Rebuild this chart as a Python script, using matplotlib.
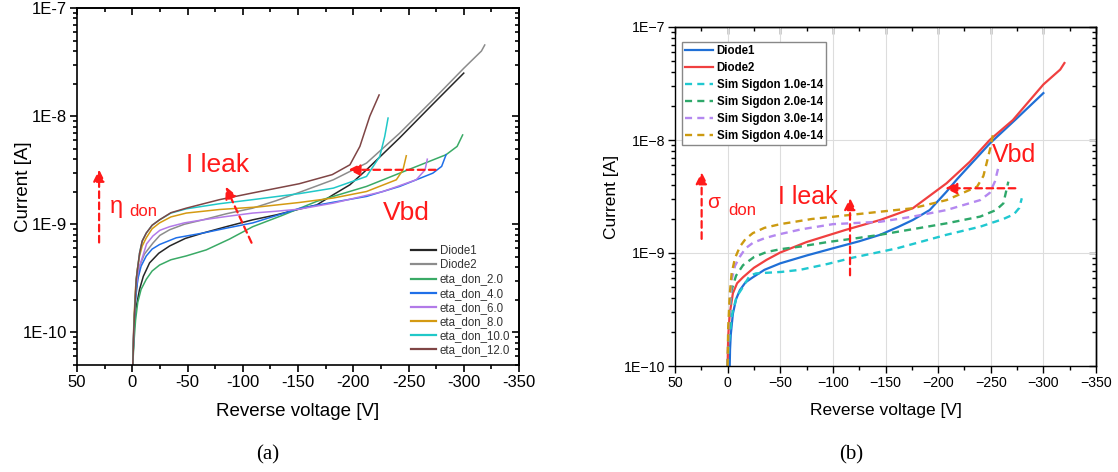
import matplotlib
matplotlib.use("Agg")
import matplotlib.pyplot as plt
from matplotlib.ticker import FixedLocator, FixedFormatter, LogLocator, NullFormatter, MultipleLocator

plt.rcParams['font.family'] = ['Liberation Sans', 'DejaVu Sans']

# ---------------- data: panel (a) ----------------
d1_v = [-0.5, -1.5, -3, -6.6, -10, -15.7, -24, -33.8, -48, -64, -85, -109, -130, -151, -167, -182, -197,
        -212, -242, -272, -300]
d1_i = [5e-11, 1e-10, 1.6e-10, 2.5e-10, 3.3e-10, 4.4e-10, 5.4e-10, 6.3e-10, 7.4e-10, 8.3e-10, 9.5e-10,
        1.1e-9, 1.22e-9, 1.38e-9, 1.51e-9, 1.88e-9, 2.32e-9, 3.19e-9, 6.3e-9, 1.29e-8, 2.5e-8]
d2_v = [-0.5, -1.5, -3, -6.6, -11, -18.7, -25, -33.8, -47, -64, -85, -109, -130, -151, -182, -212, -242,
        -272, -300, -316, -319]
d2_i = [5e-11, 1.1e-10, 2.2e-10, 4.1e-10, 5.3e-10, 6.7e-10, 7.9e-10, 8.9e-10, 1.0e-9, 1.1e-9, 1.25e-9,
        1.41e-9, 1.65e-9, 1.97e-9, 2.58e-9, 3.68e-9, 6.96e-9, 1.41e-8, 2.77e-8, 4.0e-8, 4.55e-8]
e2_v = [-0.5, -1.5, -3, -5, -8, -12.7, -18, -24.7, -35, -48.9, -67, -88, -109, -135, -167, -212, -242, -284,
        -294, -299]
e2_i = [5e-11, 8e-11, 1.3e-10, 1.9e-10, 2.5e-10, 3.1e-10, 3.7e-10, 4.2e-10, 4.7e-10, 5.1e-10, 5.8e-10,
        7.3e-10, 9.5e-10, 1.2e-9, 1.63e-9, 2.24e-9, 2.97e-9, 4.4e-9, 5.25e-9, 6.7e-9]
e4_v = [-0.5, -1.5, -3, -5, -8, -12.7, -18, -24.7, -39.8, -64, -85, -109, -130, -151, -182, -212, -242,
        -272, -280, -284]
e4_i = [5e-11, 1.2e-10, 2e-10, 3.1e-10, 4.1e-10, 5.1e-10, 5.9e-10, 6.5e-10, 7.5e-10, 8.3e-10, 9.2e-10,
        1.03e-9, 1.2e-9, 1.4e-9, 1.6e-9, 1.81e-9, 2.24e-9, 2.97e-9, 3.43e-9, 4.4e-9]
e6_v = [-0.5, -1.5, -3, -5.5, -9.6, -13, -18.7, -25, -33.8, -47, -64, -85, -109, -130, -151, -182, -227,
        -257, -265, -267]
e6_i = [5e-11, 1.2e-10, 2.4e-10, 3.8e-10, 5.1e-10, 6.6e-10, 7.8e-10, 8.8e-10, 9.5e-10, 1.03e-9, 1.1e-9,
        1.18e-9, 1.27e-9, 1.32e-9, 1.38e-9, 1.57e-9, 2.01e-9, 2.58e-9, 3.19e-9, 4.0e-9]
e8_v = [-0.5, -1.5, -3, -4.5, -6.6, -9, -12.7, -18, -24.7, -35, -48.9, -79, -115, -151, -182, -212, -239,
        -245, -248]
e8_i = [5e-11, 1.3e-10, 2.6e-10, 3.8e-10, 5.1e-10, 6.3e-10, 7.5e-10, 9.1e-10, 1.03e-9, 1.17e-9, 1.27e-9,
        1.37e-9, 1.45e-9, 1.59e-9, 1.75e-9, 2.01e-9, 2.58e-9, 3.19e-9, 4.3e-9]
e10_v = [-0.5, -1.5, -2.1, -3.6, -6.6, -9, -12.7, -18, -24.7, -35, -48.9, -79, -109, -151, -182, -212,
         -224, -228.5, -231.5]
e10_i = [5e-11, 1.1e-10, 1.5e-10, 3.1e-10, 5.4e-10, 7e-10, 8.3e-10, 9.8e-10, 1.1e-9, 1.27e-9, 1.39e-9,
         1.55e-9, 1.69e-9, 1.92e-9, 2.16e-9, 2.77e-9, 4.24e-9, 6.5e-9, 9.6e-9]
e12_v = [-0.5, -1.5, -2.1, -3.6, -6.6, -9, -12.7, -18, -24.7, -35, -48.9, -79, -109, -151, -181, -197,
         -206, -215, -223.4]
e12_i = [5e-11, 1.1e-10, 1.5e-10, 3.1e-10, 5.4e-10, 7e-10, 8.3e-10, 9.8e-10, 1.1e-9, 1.28e-9, 1.41e-9,
         1.69e-9, 1.95e-9, 2.37e-9, 2.88e-9, 3.55e-9, 5.25e-9, 1e-8, 1.57e-8]

a_labels = ['Diode1', 'Diode2', 'eta_don_2.0', 'eta_don_4.0', 'eta_don_6.0', 'eta_don_8.0',
            'eta_don_10.0', 'eta_don_12.0']
a_colors = ['#262626', '#8c8c8c', '#3aaa66', '#1f6fe8', '#b27ae8', '#d49a12', '#20c8c8', '#7f4545']

# ---------------- data: panel (b) ----------------
b1_v = [-2, -2.3, -3, -5, -8, -11.7, -17, -24, -35, -50, -75, -100, -125, -145, -162, -176, -192, -208,
        -218, -249, -273, -300]
b1_i = [1e-10, 1.4e-10, 1.9e-10, 2.9e-10, 3.9e-10, 4.7e-10, 5.5e-10, 6.1e-10, 7.1e-10, 8.1e-10, 9.5e-10,
        1.1e-9, 1.27e-9, 1.45e-9, 1.7e-9, 1.96e-9, 2.4e-9, 3.49e-9, 4.5e-9, 9.3e-9, 1.5e-8, 2.6e-8]
b2_v = [0, -0.5, -2, -5, -9, -14.6, -25, -37, -50, -75, -112, -145, -176, -208, -230, -249, -271, -300,
        -316, -320]
b2_i = [1e-10, 1.8e-10, 2.9e-10, 4.4e-10, 5.4e-10, 6.1e-10, 7.4e-10, 8.7e-10, 1.01e-9, 1.25e-9, 1.6e-9,
        1.96e-9, 2.49e-9, 4.14e-9, 6.4e-9, 1e-8, 1.5e-8, 3.1e-8, 4.2e-8, 4.8e-8]
s1_v = [0, -1, -4, -8.5, -14.6, -21, -27, -51, -69, -95, -119, -161, -208, -240, -262, -272, -277, -279.5]
s1_i = [1e-10, 1.5e-10, 2.8e-10, 4.1e-10, 5e-10, 6.3e-10, 6.6e-10, 6.8e-10, 7.1e-10, 8.0e-10, 9.1e-10,
        1.1e-9, 1.45e-9, 1.71e-9, 2.0e-9, 2.2e-9, 2.5e-9, 3.05e-9]
s2_v = [0, -1, -3.8, -8, -14.6, -25, -37, -50, -69, -95, -122, -145, -208, -240, -255, -262, -266.7]
s2_i = [1e-10, 2e-10, 4.7e-10, 6.3e-10, 7.8e-10, 9.2e-10, 1.02e-9, 1.08e-9, 1.14e-9, 1.25e-9, 1.35e-9,
        1.45e-9, 1.83e-9, 2.1e-9, 2.4e-9, 2.75e-9, 4.28e-9]
s3_v = [0, -1, -3.8, -7, -11.7, -17, -24, -35, -47, -70, -100, -145, -176, -208, -240, -249, -254, -257]
s3_i = [1e-10, 2.2e-10, 5.8e-10, 7.7e-10, 9.3e-10, 1.1e-9, 1.23e-9, 1.35e-9, 1.45e-9, 1.62e-9, 1.8e-9,
        1.89e-9, 2.1e-9, 2.4e-9, 2.94e-9, 3.4e-9, 4.3e-9, 5.6e-9]
s4_v = [0, -0.5, -2, -3.8, -7, -11.7, -17, -24, -35, -50, -80, -122, -145, -176, -208, -237, -243, -246,
        -250, -252.5]
s4_i = [1e-10, 2.1e-10, 4.3e-10, 6.6e-10, 9e-10, 1.14e-9, 1.33e-9, 1.5e-9, 1.67e-9, 1.8e-9, 2.0e-9, 2.2e-9,
        2.32e-9, 2.49e-9, 2.94e-9, 3.86e-9, 4.8e-9, 6.2e-9, 8.8e-9, 1.18e-8]

b_labels = ['Diode1', 'Diode2', 'Sim Sigdon 1.0e-14', 'Sim Sigdon 2.0e-14', 'Sim Sigdon 3.0e-14',
            'Sim Sigdon 4.0e-14']
b_colors = ['#1f6fd6', '#f04040', '#20c8d0', '#2ea86a', '#b488f0', '#cc9a10']

x_ticks = [50, 0, -50, -100, -150, -200, -250, -300, -350]
a_xticklabels = ['50', '0', '-50', '-100', '-150', '-200', '-250', '-300', '-350']
b_xticklabels = ['50', '0', '\u221250', '\u2212100', '\u2212150', '\u2212200', '\u2212250', '\u2212300', '\u2212350']
y_ticks = [1e-10, 1e-9, 1e-8, 1e-7]
a_yticklabels = ['1E-10', '1E-9', '1E-8', '1E-7']
b_yticklabels = ['1E\u221210', '1E\u22129', '1E\u22128', '1E\u22127']

W, H = 1118, 472
fig = plt.figure(figsize=(W / 100, H / 100), dpi=100)


def px_axes(l, t, r, b):
    return fig.add_axes([l / W, 1 - b / H, (r - l) / W, (b - t) / H])


def setup_ticks(ax, xlabels, ylabels, fs, spine_lw):
    ax.set_yscale('log')
    ax.set_xlim(50, -350)
    ax.xaxis.set_major_locator(FixedLocator(x_ticks))
    ax.xaxis.set_major_formatter(FixedFormatter(xlabels))
    ax.xaxis.set_minor_locator(MultipleLocator(25))
    ax.yaxis.set_major_locator(FixedLocator(y_ticks))
    ax.yaxis.set_major_formatter(FixedFormatter(ylabels))
    ax.yaxis.set_minor_locator(LogLocator(base=10, subs=range(2, 10)))
    ax.yaxis.set_minor_formatter(NullFormatter())
    ax.tick_params(which='major', direction='out', length=5, width=spine_lw, labelsize=fs, pad=2)
    ax.tick_params(which='minor', direction='out', length=3, width=spine_lw)
    for s in ax.spines.values():
        s.set_linewidth(spine_lw)
    # mirrored inward ticks
    top = ax.secondary_xaxis('top')
    top.xaxis.set_major_locator(FixedLocator(x_ticks))
    top.xaxis.set_minor_locator(MultipleLocator(25))
    top.tick_params(which='major', direction='in', length=5, width=spine_lw, labeltop=False, color='k')
    top.tick_params(which='minor', direction='in', length=3, width=spine_lw, color='k')
    right = ax.secondary_yaxis('right')
    right.yaxis.set_major_locator(FixedLocator(y_ticks))
    right.yaxis.set_minor_locator(LogLocator(base=10, subs=range(2, 10)))
    right.yaxis.set_minor_formatter(NullFormatter())
    right.tick_params(which='major', direction='in', length=5, width=spine_lw, labelright=False, color='k')
    right.tick_params(which='minor', direction='in', length=3, width=spine_lw, color='k')
    for s in list(top.spines.values()) + list(right.spines.values()):
        s.set_linewidth(spine_lw)


red = '#ff1a1a'
arrow_kw = dict(arrowstyle='-|>,head_length=0.7,head_width=0.35', color=red, lw=1.6, ls=(0, (3, 2)))

# ---------------- panel (a) ----------------
axa = px_axes(77, 8, 519, 365)
a_series = [(d1_v, d1_i), (d2_v, d2_i), (e2_v, e2_i), (e4_v, e4_i), (e6_v, e6_i), (e8_v, e8_i),
            (e10_v, e10_i), (e12_v, e12_i)]
for (v, i), lab, c in zip(a_series, a_labels, a_colors):
    axa.plot(v, i, color=c, lw=1.1, label=lab)
setup_ticks(axa, a_xticklabels, a_yticklabels, 12, 1.2)
axa.set_ylim(5e-11, 1e-7)
axa.set_xlim(50, -350)
axa.set_xlabel('Reverse voltage [V]', fontsize=13.5)
axa.set_ylabel('Current [A]', fontsize=13.5)
axa.xaxis.set_label_coords(0.5, -0.13)
axa.yaxis.set_label_coords(-0.122, 0.5)
axa.xaxis.label.set_va('center')
axa.yaxis.label.set_va('center')
leg = axa.legend(loc='upper left', bbox_to_anchor=(0.755, 0.335), frameon=False, fontsize=8.3,
                 handlelength=2.2, handletextpad=0.3, labelspacing=0.18, borderpad=0, borderaxespad=0)
for t in leg.get_texts():
    t.set_color('#333333')
for l in leg.get_lines():
    l.set_linewidth(1.6)

axa.annotate('', xy=(30, 3.4e-9), xytext=(30, 6.4e-10), arrowprops=arrow_kw)
axa.text(14, 1.46e-9, '\u03b7', color=red, fontsize=17, ha='center', va='center')
axa.text(-10, 1.3e-9, 'don', color=red, fontsize=12, ha='center', va='center')
axa.text(-77, 3.55e-9, 'I leak', color=red, fontsize=19, ha='center', va='center')
axa.annotate('', xy=(-83.6, 2.35e-9), xytext=(-109, 6.4e-10), arrowprops=arrow_kw)
axa.annotate('', xy=(-193, 3.19e-9), xytext=(-277, 3.19e-9), arrowprops=arrow_kw)
axa.text(-247.6, 1.28e-9, 'Vbd', color=red, fontsize=19, ha='center', va='center')

# ---------------- panel (b) ----------------
axb = px_axes(675, 27, 1096, 366)
axb.grid(True, which='major', color='#dddddd', lw=0.8)
axb.set_axisbelow(True)
b_series = [(b1_v, b1_i), (b2_v, b2_i), (s1_v, s1_i), (s2_v, s2_i), (s3_v, s3_i), (s4_v, s4_i)]
for k, ((v, i), lab, c) in enumerate(zip(b_series, b_labels, b_colors)):
    if k < 2:
        axb.plot(v, i, color=c, lw=1.6, label=lab)
    else:
        axb.plot(v, i, color=c, lw=1.7, ls=(0, (3, 2.2)), label=lab)
setup_ticks(axb, b_xticklabels, b_yticklabels, 10.2, 1.0)
axb.set_ylim(1e-10, 1e-7)
axb.set_xlim(50, -350)
axb.set_xlabel('Reverse voltage [V]', fontsize=12.5)
axb.set_ylabel('Current [A]', fontsize=12.5)
axb.xaxis.set_label_coords(0.5, -0.13)
axb.yaxis.set_label_coords(-0.152, 0.5)
axb.xaxis.label.set_va('center')
axb.yaxis.label.set_va('center')
legb = axb.legend(loc='upper left', bbox_to_anchor=(0.0166, 0.956),
                  prop={'weight': 'bold', 'size': 8.3}, handlelength=2.4, handletextpad=0.3,
                  labelspacing=0.42, borderpad=0.3, borderaxespad=0, fancybox=False,
                  edgecolor='#888888', framealpha=1)
legb.get_frame().set_linewidth(1.0)

axb.annotate('', xy=(24.7, 5.5e-9), xytext=(24.7, 1.26e-9), arrowprops=arrow_kw)
axb.text(13, 2.77e-9, '\u03c3', color=red, fontsize=15, ha='center', va='center')
axb.text(-13.6, 2.4e-9, 'don', color=red, fontsize=12, ha='center', va='center')
axb.text(-76.3, 3.13e-9, 'I leak', color=red, fontsize=18, ha='center', va='center')
axb.annotate('', xy=(-116.3, 3.25e-9), xytext=(-116.3, 6.0e-10), arrowprops=arrow_kw)
axb.annotate('', xy=(-204, 3.74e-9), xytext=(-276, 3.74e-9), arrowprops=arrow_kw)
axb.text(-272, 7.36e-9, 'Vbd', color=red, fontsize=18, ha='center', va='center')

# captions
fig.text(268 / W, 1 - 455 / H, '(a)', fontsize=15, ha='center', va='center', family='Liberation Serif')
fig.text(851 / W, 1 - 455 / H, '(b)', fontsize=15, ha='center', va='center', family='Liberation Serif')

fig.savefig('out.png', dpi=100)
